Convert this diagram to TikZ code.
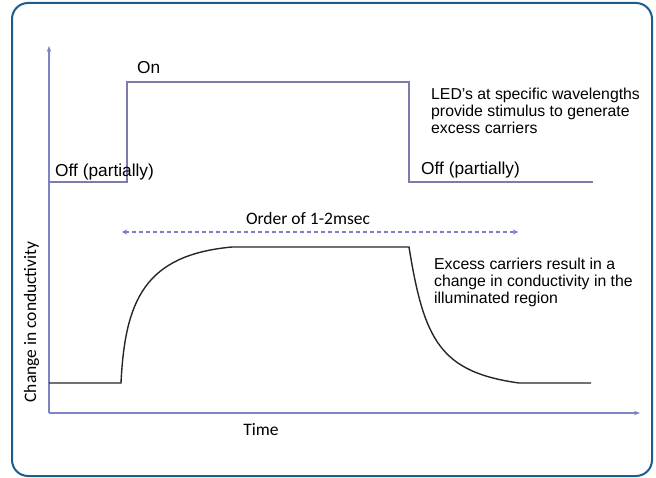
\documentclass[tikz,border=0pt]{standalone}
\usepackage{fontspec}
\setmainfont{Liberation Sans}
\newfontfamily\calib{Carlito}
\usetikzlibrary{calc,positioning,arrows.meta}

\definecolor{framecol}{HTML}{1B5E8C}
\definecolor{axiscol}{HTML}{7E84C4}
\definecolor{pulsecol}{HTML}{7C7CAA}
\definecolor{spancol}{HTML}{7A7FCC}
\definecolor{curvecol}{HTML}{262626}

\tikzset{
  axis/.style={draw=axiscol, line width=1.3pt, -{Stealth[length=6pt,width=4.5pt]}},
  pulse/.style={draw=pulsecol, line width=1.3pt},
  response/.style={draw=curvecol, line width=1.4pt},
  span/.style={draw=spancol, line width=1.2pt, dash pattern=on 4pt off 3pt,
    {Stealth[length=5pt,width=5pt]}-{Stealth[length=5pt,width=5pt]}},
  level/.style={inner sep=0pt, anchor=base west, font=\fontsize{17.3}{20}\selectfont},
  note/.style={inner sep=0pt, anchor=base west, align=left,
    font=\fontsize{15.8}{16.7}\selectfont},
  axislabel/.style={inner sep=0pt, font=\calib\fontsize{17.5}{20}\selectfont}
}

\begin{document}
\begin{tikzpicture}[x=1pt,y=-1pt]
  \useasboundingbox (0,0) rectangle (656,478);
  \draw[framecol, line width=2pt, rounded corners=16pt] (12,3) rectangle (652,476);

  \coordinate (o) at (49,413);
  \coordinate (ytop) at ($(o) + (0,-367)$);
  \coordinate (xend) at ($(o) + (591,0)$);
  \draw[axis] (o) -- (ytop);
  \draw[axis] (o) -- (xend);

  \coordinate (p1) at (49,182);
  \coordinate (p2) at (127,182);
  \coordinate (p3) at (127,82);
  \coordinate (p4) at (409,82);
  \coordinate (p5) at (409,182);
  \coordinate (p6) at (593,182);
  \draw[pulse] (p1) -- (p2) -- (p3) -- (p4) -- (p5) -- (p6);

  \coordinate (r1) at (49,383);
  \coordinate (r2) at (121,383);
  \coordinate (r3) at (232,247);
  \coordinate (r4) at (409,247);
  \coordinate (r5) at (519,383);
  \coordinate (r6) at (591,383);
  \draw[response] (r1) -- (r2) .. controls (125,300) and (145,255) .. (r3)
    -- (r4) .. controls (424,340) and (440,372) .. (r5) -- (r6);

  \coordinate (sl) at (122,232);
  \coordinate (sr) at (518,232);
  \draw[span] (sl) -- (sr);
  \node[axislabel, anchor=base] (order) at (308,225) {Order of 1-2msec};

  \node[level] (on) at (137,74) {On};
  \node[level] (offl) at (55,177) {Off (partially)};
  \node[level] (offr) at (421,175) {Off (partially)};
  \node[note] (led) at (431,133.4) {LED's at specific wavelengths\\provide stimulus to generate\\excess carriers};
  \node[note] (exc) at (434,303.4) {Excess carriers result in a\\change in conductivity in the\\illuminated region};

  \node[axislabel, anchor=base] (time) at (261,435) {Time};
  \node[axislabel, rotate=90, anchor=base] (cond) at (36,322) {Change in conductivity};
\end{tikzpicture}
\end{document}
